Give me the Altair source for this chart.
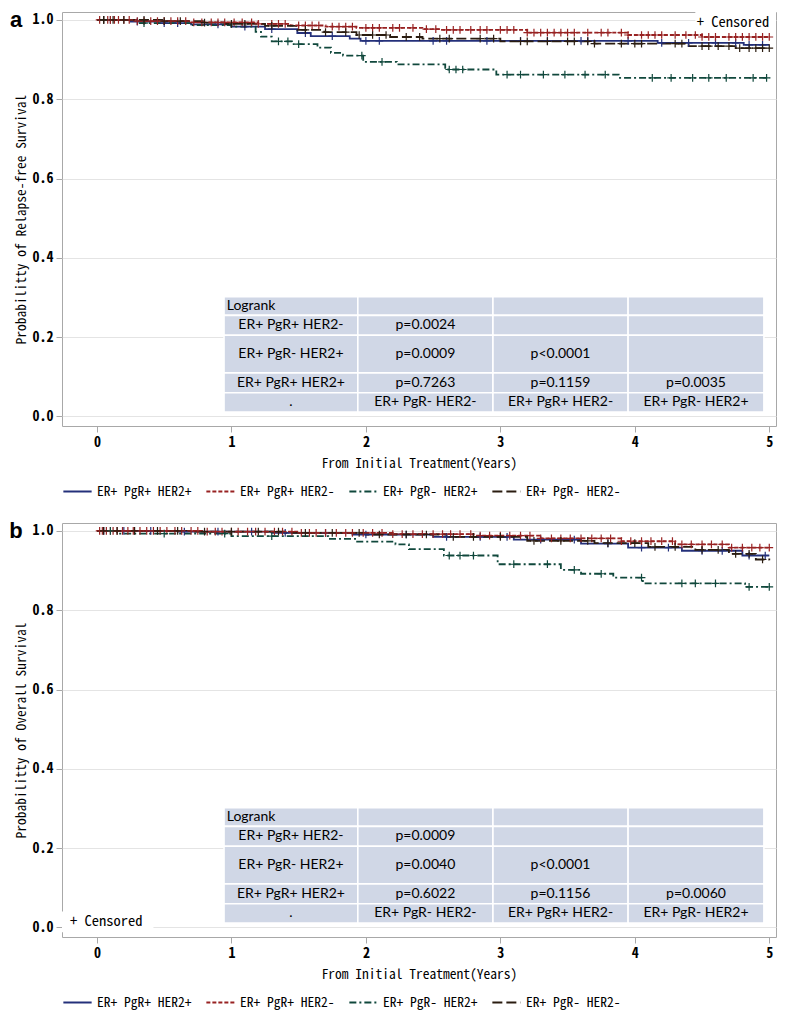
import altair as alt
import numpy as np
import pandas as pd

GROUPS = ["ER+ PgR+ HER2+", "ER+ PgR+ HER2-", "ER+ PgR- HER2+", "ER+ PgR- HER2-"]

# ---------------- panel a : relapse-free survival ----------------
a_blue_t = [0, 0.25, 0.45, 0.7, 1.0, 1.25, 1.49, 1.59, 1.88, 1.96, 4.17, 4.81, 5.0]
a_blue_s = [1.0, 0.996, 0.992, 0.989, 0.983, 0.977, 0.967, 0.959, 0.953, 0.947, 0.942, 0.937, 0.937]
a_red_t = [0, 0.3, 0.7, 1.2, 1.44, 1.7, 1.93, 2.42, 2.55, 3.2, 3.95, 4.5, 5.0]
a_red_s = [1.0, 0.997, 0.994, 0.99, 0.986, 0.983, 0.980, 0.977, 0.975, 0.968, 0.962, 0.957, 0.957]
a_green_t = [0, 0.3, 0.7, 1.0, 1.18, 1.22, 1.30, 1.45, 1.64, 1.74, 1.83, 1.98, 2.23, 2.59, 2.97, 3.88, 5.0]
a_green_s = [1.0, 0.992, 0.987, 0.983, 0.970, 0.958, 0.946, 0.939, 0.930, 0.917, 0.910, 0.894, 0.888, 0.875, 0.862, 0.854, 0.854]
a_black_t = [0, 0.5, 0.8, 0.95, 1.25, 1.49, 1.69, 1.93, 2.18, 2.42, 3.0, 3.7, 4.4, 4.75, 5.0]
a_black_s = [1.0, 0.997, 0.993, 0.990, 0.985, 0.975, 0.969, 0.962, 0.957, 0.953, 0.946, 0.940, 0.934, 0.929, 0.929]

a_blue_c = [0.1, 0.3, 0.5, 0.6, 0.9, 1.1, 1.3, 1.55, 1.75, 2.0, 2.1, 2.5, 2.6, 2.9, 3.15, 3.35,
            3.6, 3.65, 3.95, 4.2, 4.4, 4.6, 4.75, 4.85, 4.95]
a_red_c = [0.02, 0.05, 0.08, 0.1, 0.13, 0.16, 0.2, 0.24, 0.3, 0.35, 0.4, 0.45, 0.5, 0.55, 0.6, 0.66,
           0.72, 0.78, 0.85, 0.9, 0.95, 1.02, 1.08, 1.15, 1.2, 1.3, 1.35, 1.4, 1.5, 1.55, 1.6, 1.65,
           1.75, 1.8, 1.85, 1.9, 2.0, 2.05, 2.1, 2.2, 2.25, 2.35, 2.45, 2.52, 2.6, 2.65, 2.7, 2.78,
           2.85, 2.9, 3.0, 3.05, 3.1, 3.2, 3.25, 3.3, 3.35, 3.4, 3.45, 3.5, 3.55, 3.65, 3.75, 3.8,
           3.9, 3.95, 4.05, 4.1, 4.15, 4.2, 4.3, 4.38, 4.45, 4.5, 4.55, 4.6, 4.7, 4.75, 4.8, 4.85,
           4.9, 4.95, 5.0]
a_green_c = [0.05, 0.35, 1.35, 1.42, 1.5, 1.97, 2.12, 2.62, 2.67, 2.72, 3.05, 3.15, 3.32, 3.48,
             3.63, 3.78, 4.13, 4.27, 4.43, 4.55, 4.68, 4.88, 4.98]
a_black_c = [0.05, 0.12, 0.2, 0.35, 0.5, 0.62, 0.8, 1.0, 1.1, 1.3, 1.55, 1.7, 1.85, 1.95, 2.05,
             2.15, 2.3, 2.4, 2.55, 2.62, 2.85, 2.95, 3.15, 3.2, 3.35, 3.5, 3.55, 3.65, 3.7, 3.9,
             4.0, 4.05, 4.3, 4.35, 4.5, 4.55, 4.62, 4.7, 4.78, 4.85, 4.9, 4.95, 5.0]

# ---------------- panel b : overall survival ----------------
b_blue_t = [0, 0.6, 1.3, 1.9, 2.5, 3.1, 3.6, 3.95, 4.35, 4.8, 5.0]
b_blue_s = [1.0, 0.998, 0.995, 0.991, 0.985, 0.978, 0.968, 0.958, 0.950, 0.938, 0.938]
b_red_t = [0, 0.8, 1.5, 2.2, 2.8, 3.3, 3.9, 4.3, 4.7, 5.0]
b_red_s = [1.0, 0.998, 0.995, 0.992, 0.988, 0.981, 0.974, 0.966, 0.958, 0.958]
b_green_t = [0, 0.15, 1.0, 1.72, 1.92, 2.22, 2.32, 2.58, 2.98, 3.45, 3.6, 3.84, 4.06, 4.82, 5.0]
b_green_s = [1.0, 0.993, 0.987, 0.980, 0.973, 0.966, 0.954, 0.938, 0.916, 0.902, 0.892, 0.882, 0.868, 0.859, 0.859]
b_black_t = [0, 0.7, 1.4, 2.0, 2.6, 3.2, 3.7, 4.1, 4.45, 4.7, 4.9, 5.0]
b_black_s = [1.0, 0.998, 0.995, 0.991, 0.985, 0.975, 0.969, 0.960, 0.952, 0.942, 0.928, 0.926]

b_blue_c = [0.05, 0.2, 0.4, 0.65, 0.9, 1.15, 1.4, 1.7, 2.0, 2.3, 2.6, 2.85, 3.05, 3.3, 3.55,
            3.8, 4.05, 4.25, 4.5, 4.65, 4.85, 4.97]
b_red_c = [0.02, 0.04, 0.07, 0.1, 0.12, 0.15, 0.19, 0.23, 0.27, 0.32, 0.37, 0.42, 0.47, 0.52,
           0.58, 0.63, 0.7, 0.75, 0.82, 0.88, 0.93, 1.0, 1.05, 1.12, 1.18, 1.25, 1.32, 1.38, 1.45,
           1.52, 1.58, 1.63, 1.7, 1.78, 1.85, 1.9, 1.98, 2.05, 2.12, 2.2, 2.27, 2.35, 2.42, 2.5,
           2.57, 2.63, 2.7, 2.78, 2.85, 2.92, 3.0, 3.07, 3.15, 3.22, 3.3, 3.38, 3.45, 3.52, 3.6,
           3.68, 3.75, 3.82, 3.9, 3.97, 4.05, 4.12, 4.2, 4.28, 4.35, 4.42, 4.5, 4.57, 4.65, 4.72,
           4.8, 4.87, 4.93, 5.0]
b_green_c = [0.1, 0.5, 0.95, 1.3, 2.62, 2.7, 2.8, 3.1, 3.35, 3.55, 3.75, 4.05, 4.35, 4.45, 4.6,
             4.85, 5.0]
b_black_c = [0.05, 0.15, 0.28, 0.45, 0.6, 0.8, 1.0, 1.2, 1.35, 1.55, 1.75, 1.95, 2.1, 2.3, 2.45,
             2.65, 2.8, 3.0, 3.25, 3.45, 3.65, 3.8, 4.0, 4.15, 4.3, 4.5, 4.62, 4.75, 4.85, 4.95]

# ---------------- log-rank tables ----------------
table_col0 = ["Logrank", "ER+ PgR+ HER2-", "ER+ PgR- HER2+", "ER+ PgR+ HER2+", "."]
a_table_c1 = ["", "p=0.0024", "p=0.0009", "p=0.7263", "ER+ PgR- HER2-"]
a_table_c2 = ["", "", "p<0.0001", "p=0.1159", "ER+ PgR+ HER2-"]
a_table_c3 = ["", "", "", "p=0.0035", "ER+ PgR- HER2+"]
b_table_c1 = ["", "p=0.0009", "p=0.0040", "p=0.6022", "ER+ PgR- HER2-"]
b_table_c2 = ["", "", "p<0.0001", "p=0.1156", "ER+ PgR+ HER2-"]
b_table_c3 = ["", "", "", "p=0.0060", "ER+ PgR- HER2+"]

# layout of the table (in data units of the plot)
COL_EDGES = [0.945, 1.94, 2.945, 3.95, 4.96]
ROW_EDGES = [0.302, 0.255, 0.205, 0.11, 0.06, 0.011]

COLORS = ["#24307a", "#982222", "#10483c", "#2a1c10"]
DASHES = [[1, 0], [4, 2], [7, 3, 2, 3], [10, 4]]
MONO = "Noto Sans Mono CJK JP, DejaVu Sans Mono"
TFONT = "Lato"

XDOM = [-0.26, 5.05]
YDOM = [-0.024, 1.02]


def steps_df(ts, ss):
    rows = []
    for g, t, s in zip(GROUPS, ts, ss):
        for ti, si in zip(t, s):
            rows.append({"group": g, "t": ti, "s": si})
    return pd.DataFrame(rows)


def censor_df(t, s, c):
    ta = np.array(t)
    sa = np.array(s)
    rows = []
    for ci in c:
        idx = np.searchsorted(ta, ci, side="right") - 1
        rows.append({"t": ci, "s": float(sa[idx])})
    return pd.DataFrame(rows)


def table_dfs(c1, c2, c3):
    cols = [table_col0, c1, c2, c3]
    rects, texts, head = [], [], []
    for r in range(5):
        for c in range(4):
            rects.append({"t": COL_EDGES[c], "t2": COL_EDGES[c + 1],
                          "s": ROW_EDGES[r], "s2": ROW_EDGES[r + 1]})
            txt = cols[c][r]
            if not txt:
                continue
            ym = (ROW_EDGES[r] + ROW_EDGES[r + 1]) / 2
            if r == 0 and c == 0:
                head.append({"t": COL_EDGES[0] + 0.02, "s": ym, "label": txt})
            else:
                texts.append({"t": (COL_EDGES[c] + COL_EDGES[c + 1]) / 2, "s": ym, "label": txt})
    return pd.DataFrame(rects), pd.DataFrame(texts), pd.DataFrame(head)


def panel(ts, ss, cs, tabs, ytitle, letter, cens_box, cens_text):
    x_enc = alt.X("t:Q", scale=alt.Scale(domain=XDOM, nice=False, zero=False),
                  axis=alt.Axis(values=[0, 1, 2, 3, 4, 5], title="From Initial Treatment(Years)",
                                grid=False, format="d"))
    y_enc = alt.Y("s:Q", scale=alt.Scale(domain=YDOM, nice=False, zero=False),
                  axis=alt.Axis(values=[0, 0.2, 0.4, 0.6, 0.8, 1.0], format=".1f", title=ytitle,
                                grid=True))
    color = alt.Color("group:N", scale=alt.Scale(domain=GROUPS, range=COLORS),
                      legend=alt.Legend(title=None, orient="bottom", direction="horizontal"))
    dash = alt.StrokeDash("group:N", scale=alt.Scale(domain=GROUPS, range=DASHES),
                          legend=alt.Legend(title=None, orient="bottom", direction="horizontal"))

    rect_df, text_df, head_df = table_dfs(*tabs)

    lines = alt.Chart(steps_df(ts, ss)).mark_line(interpolate="step-after", strokeWidth=1.8).encode(
        x=x_enc, y=y_enc, color=color, strokeDash=dash, order="t:Q")
    cens_layers = []
    for t, s, c, col in zip(ts, ss, cs, COLORS):
        cens_layers.append(alt.Chart(censor_df(t, s, c)).mark_point(
            shape="M-1,0L1,0M0,-1L0,1", filled=False, size=60, strokeWidth=1.2, opacity=1,
            color=col).encode(x=x_enc, y=y_enc))
    cells = alt.Chart(rect_df).mark_rect(color="#d0d7e6", stroke="white", strokeWidth=1.6).encode(
        x=x_enc, x2="t2:Q", y=y_enc, y2="s2:Q")
    ctext = alt.Chart(text_df).mark_text(font=TFONT, fontSize=14, align="center",
                                         baseline="middle", color="black").encode(
        x=x_enc, y=y_enc, text="label:N")
    htext = alt.Chart(head_df).mark_text(font=TFONT, fontSize=14, align="left",
                                         baseline="middle", color="black").encode(
        x=x_enc, y=y_enc, text="label:N")
    box_df = pd.DataFrame([cens_box])
    cbox = alt.Chart(box_df).mark_rect(color="white").encode(x=x_enc, x2="t2:Q", y=y_enc, y2="s2:Q")
    ctxt_df = pd.DataFrame([cens_text])
    ctxt = alt.Chart(ctxt_df).mark_text(font=MONO, fontSize=14.5, align=cens_text["align"],
                                        baseline="middle", color="black").encode(
        x=x_enc, y=y_enc, text="label:N")
    lab = alt.Chart(pd.DataFrame({"k": [0]})).mark_text(
        text=letter, font="Liberation Sans", fontSize=22, fontWeight="bold",
        align="center", baseline="top").encode(x=alt.value(-46), y=alt.value(-2))

    return alt.layer(lines, cells, ctext, htext, cbox, ctxt, *cens_layers, lab).properties(
        width=714, height=414)


pa = panel([a_blue_t, a_red_t, a_green_t, a_black_t],
           [a_blue_s, a_red_s, a_green_s, a_black_s],
           [a_blue_c, a_red_c, a_green_c, a_black_c],
           (a_table_c1, a_table_c2, a_table_c3),
           "Probabilitty of Relapse-free Survival", "a",
           {"t": 4.45, "t2": 5.05, "s": 0.972, "s2": 1.02},
           {"t": 5.0, "s": 0.992, "label": "+ Censored", "align": "right"})
pb = panel([b_blue_t, b_red_t, b_green_t, b_black_t],
           [b_blue_s, b_red_s, b_green_s, b_black_s],
           [b_blue_c, b_red_c, b_green_c, b_black_c],
           (b_table_c1, b_table_c2, b_table_c3),
           "Probabilitty of Overall Survival", "b",
           {"t": -0.26, "t2": 0.42, "s": -0.012, "s2": 0.04},
           {"t": -0.2, "s": 0.013, "label": "+ Censored", "align": "left"})

chart = alt.vconcat(pa, pb, spacing=20).resolve_scale(
    color="independent", strokeDash="independent").resolve_legend(
    color="independent", strokeDash="independent").configure_view(
    stroke="#a8a8a8", strokeWidth=1).configure_axis(
    domain=False, tickColor="#a8a8a8", tickSize=6, gridColor="#e4e4e4",
    labelFont=MONO, labelFontSize=14, labelFontWeight="bold", labelColor="black",
    titleFont=MONO, titleFontSize=13.5, titleFontWeight="normal", titleColor="black",
    labelPadding=3, titlePadding=4).configure_axisX(titlePadding=7).configure_legend(
    symbolType="stroke", symbolStrokeWidth=2,
    symbolSize=800, labelFont=MONO, labelFontSize=13.5, labelColor="black",
    columnPadding=10, offset=6, padding=0, labelLimit=300).properties(
    padding={"left": 0, "right": 0, "top": 0, "bottom": 0})

chart.save("out.html", embed_options={"renderer": "svg", "actions": False})
